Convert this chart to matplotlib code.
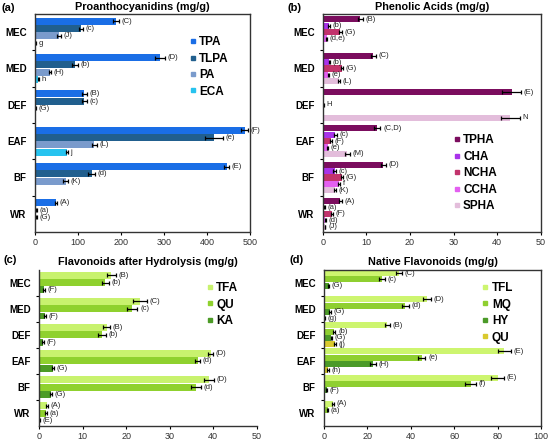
import numpy as np
import matplotlib
matplotlib.use("Agg")
import matplotlib.pyplot as plt

plt.rcParams['font.family'] = ['Liberation Sans', 'DejaVu Sans']

groups = ['MEC', 'MED', 'DEF', 'EAF', 'BF', 'WR']

# (a) Proanthocyanidins
a_series = ['TPA', 'TLPA', 'PA', 'ECA']
a_vals = [[188, 291, 115, 488, 446, 49],
          [107, 93, 115, 416, 132, 3],
          [56, 35, 2, 138, 71, 3],
          [1.5, 8, None, 74, None, None]]
a_errs = [[7, 12, 5, 8, 6, 2],
          [5, 6, 5, 20, 8, 1],
          [4, 3, 1, 6, 5, 1],
          [1, 2, None, 3, None, None]]
a_lbls = [['(C)', '(D)', '(B)', '(F)', '(E)', '(A)'],
          ['(c)', '(b)', '(c)', '(e)', '(d)', '(a)'],
          ['(J)', '(H)', '(G)', '(L)', '(K)', '(G)'],
          ['g', 'h', None, 'j', None, None]]
a_cols = ['#1a6ee6', '#215f8e', '#7a9bcc', '#27c3ef']

# (b) Phenolic acids
b_series = ['TPHA', 'CHA', 'NCHA', 'CCHA', 'SPHA']
b_vals = [[8.6, 11.6, 43.3, 12.5, 13.9, 4.0],
          [1.4, 1.5, None, 2.9, 2.7, 0.3],
          [4.0, 4.4, 0.2, 1.9, 4.4, 2.1],
          [0.9, 1.2, None, 1.1, 3.7, 0.6],
          [None, 3.7, 43.0, 5.6, 2.8, 0.5]]
b_errs = [[0.5, 0.5, 2.2, 0.7, 0.5, 0.3],
          [0.2, 0.2, None, 0.3, 0.3, 0.1],
          [0.3, 0.3, 0.1, 0.2, 0.3, 0.2],
          [0.1, 0.1, None, 0.1, 0.2, 0.1],
          [None, 0.3, 2.2, 0.6, 0.3, 0.1]]
b_lbls = [['(B)', '(C)', '(E)', '(C,D)', '(D)', '(A)'],
          ['(b)', '(b)', None, '(c)', '(c)', '(a)'],
          ['(G)', '(G)', 'H', '(F)', '(G)', '(F)'],
          ['(d,e)', '(e)', None, '(e)', 'f', '(d)'],
          [None, '(L)', 'N', '(M)', '(K)', '(J)']]
b_cols = ['#7b0d5e', '#a933ea', '#c2336c', '#e35ff0', '#e3bddb']

# (c) Flavonoids after hydrolysis
c_series = ['TFA', 'QU', 'KA']
c_vals = [[16.6, 23.2, 15.5, 39.4, 39.0, 1.8],
          [15.2, 21.4, 14.4, 36.4, 36.0, 1.6],
          [1.2, 1.4, 1.0, 3.3, 2.8, 0.2]]
c_errs = [[1.0, 1.6, 0.8, 0.6, 1.2, 0.2],
          [0.8, 1.2, 0.9, 0.6, 1.2, 0.2],
          [0.2, 0.2, 0.2, 0.2, 0.2, 0.1]]
c_lbls = [['(B)', '(C)', '(B)', '(D)', '(D)', '(A)'],
          ['(b)', '(c)', '(b)', '(d)', '(d)', '(a)'],
          ['(F)', '(F)', '(F)', '(G)', '(G)', '(E)']]
c_cols = ['#c8f26e', '#8fd12e', '#4c9b26']

# (d) Native flavonoids
d_series = ['TFL', 'MQ', 'HY', 'QU']
d_vals = [[34.5, 47.5, 29.2, 83.0, 80.0, 4.3],
          [26.8, 37.5, 4.8, 45.0, 67.7, 1.7],
          [2.2, 2.8, 3.4, 22.6, 1.2, None],
          [None, 0.2, 5.1, 1.8, None, None]]
d_errs = [[1.5, 1.8, 1.2, 3.0, 3.0, 0.5],
          [1.2, 1.7, 0.5, 1.8, 2.5, 0.3],
          [0.3, 0.3, 0.3, 1.3, 0.3, None],
          [None, 0.1, 0.5, 0.3, None, None]]
d_lbls = [['(C)', '(D)', '(B)', '(E)', '(E)', '(A)'],
          ['(c)', '(d)', '(b)', '(e)', '(f)', '(a)'],
          ['(G)', '(G)', '(G)', '(H)', '(F)', None],
          [None, '(g)', '(j)', '(h)', None, None]]
d_cols = ['#cdf56f', '#8fcf30', '#4b9a28', '#d9c92e']


def panel(ax, vals, errs, lbls, cols, names, step, xmax, xstep, title,
          box=True, leg_anchor=(0.6, 0.95), lbl_pad=0.012):
    n = len(vals)
    y = np.arange(len(groups))
    for k in range(n):
        off = (k - (n - 1) / 2) * step
        for i in range(len(groups)):
            v = vals[k][i]
            if v is None:
                continue
            e = errs[k][i]
            ax.barh(y[i] + off, v, height=step * 0.95, color=cols[k],
                    xerr=e, error_kw=dict(ecolor='black', elinewidth=0.9,
                                          capsize=1.6, capthick=0.9))
            if lbls[k][i]:
                ax.text(v + e + xmax * lbl_pad, y[i] + off, lbls[k][i],
                        fontsize=5.5, va='center', ha='left', color='#222222')
    ax.set_ylim(len(groups) - 0.5, -0.5)
    ax.set_xlim(0, xmax)
    ax.set_xticks(np.arange(0, xmax + xstep / 2, xstep))
    ax.set_yticks(y)
    ax.set_yticklabels(groups, fontsize=7, fontweight='bold')
    ax.set_yticks(np.arange(0.5, len(groups) - 0.5, 1), minor=True)
    ax.tick_params(axis='y', which='major', length=0, pad=6)
    ax.tick_params(axis='y', which='minor', length=2.5, width=0.8)
    ax.tick_params(axis='x', labelsize=6.5, length=2.5, pad=1.5,
                   labelcolor='#333333')
    for s in ax.spines.values():
        s.set_linewidth(1.0)
        s.set_color('#333333')
    if not box:
        ax.spines['top'].set_visible(False)
        ax.spines['right'].set_visible(False)
    ax.set_title(title, fontsize=7.8, fontweight='bold', pad=3)
    handles = [plt.Line2D([], [], marker='s', linestyle='', color=c,
                          markersize=3.5) for c in cols]
    ax.legend(handles, names, loc='upper left', bbox_to_anchor=leg_anchor,
              frameon=False, handletextpad=0.15, labelspacing=0.38,
              prop=dict(weight='bold', size=8.5), handlelength=0.8,
              borderaxespad=0)


fig = plt.figure(figsize=(5.5, 4.44), dpi=100)
ax_a = fig.add_axes([0.0636, 0.4775, 0.391, 0.491])
ax_b = fig.add_axes([0.587, 0.4775, 0.3964, 0.491])
ax_c = fig.add_axes([0.0709, 0.040, 0.396, 0.353])
ax_d = fig.add_axes([0.589, 0.040, 0.3945, 0.353])

panel(ax_a, a_vals, a_errs, a_lbls, a_cols, a_series, 0.2, 500, 100,
      'Proanthocyanidins (mg/g)', leg_anchor=(0.69, 0.92))
panel(ax_b, b_vals, b_errs, b_lbls, b_cols, b_series, 0.175, 50, 10,
      'Phenolic Acids (mg/g)', leg_anchor=(0.57, 0.47))
panel(ax_c, c_vals, c_errs, c_lbls, c_cols, c_series, 0.28, 50, 10,
      'Flavonoids after Hydrolysis (mg/g)', box=False,
      leg_anchor=(0.74, 0.95))
panel(ax_d, d_vals, d_errs, d_lbls, d_cols, d_series, 0.243, 100, 20,
      'Native Flavonoids (mg/g)', leg_anchor=(0.70, 0.95))

# panel tags
for tag, px, py in [('(a)', 2, 8), ('(b)', 288, 8), ('(c)', 3, 260),
                    ('(d)', 290, 260)]:
    fig.text(px / 550, 1 - py / 444, tag, fontsize=8, fontweight='bold',
             ha='left', va='center')

fig.savefig('out.png', dpi=100)
